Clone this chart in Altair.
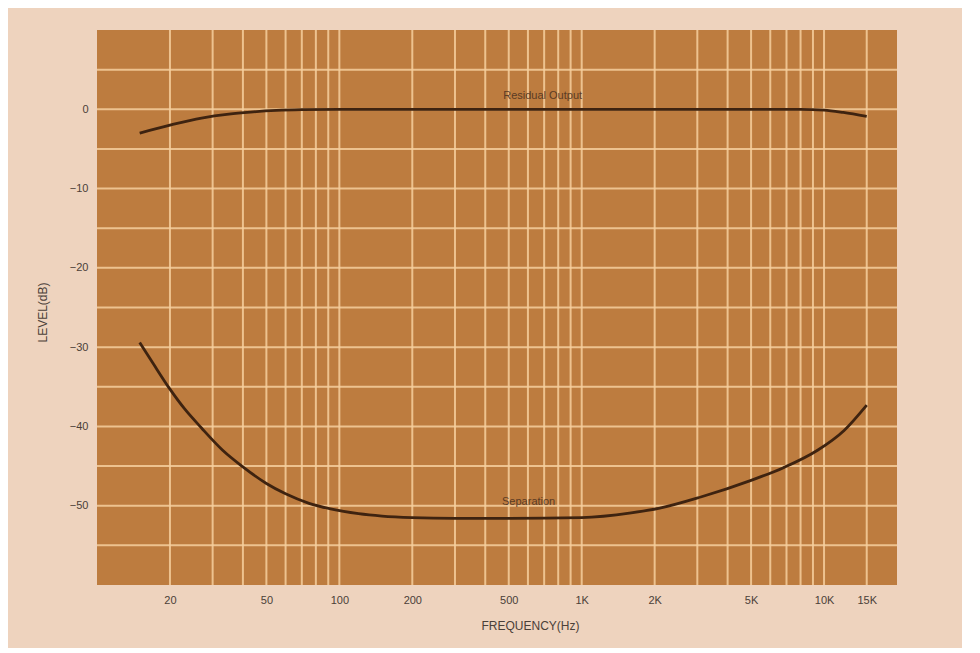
import altair as alt
import pandas as pd

# ---- data ----
res_freq = [15, 20, 27, 35, 43, 55, 70, 100, 200, 500, 1000, 2000, 5000, 8000, 10000, 12000, 15000]
res_db = [-3.0, -2.0, -1.1, -0.6, -0.35, -0.15, -0.05, 0, 0, 0, 0, 0, 0, 0, -0.1, -0.4, -0.9]

sep_freq = [15, 17, 20, 23, 27, 33, 40, 50, 60, 75, 92, 120, 150, 200, 300, 500, 1000, 1600, 2100,
            3100, 5000, 6800, 9400, 12100, 15000]
sep_db = [-29.4, -32.0, -35.3, -37.8, -40.2, -43.0, -45.1, -47.2, -48.5, -49.7, -50.4, -51.0, -51.3,
          -51.5, -51.6, -51.6, -51.5, -50.9, -50.3, -48.9, -46.8, -45.2, -43.0, -40.5, -37.3]

x_grid = [20, 30, 40, 50, 60, 70, 80, 90, 100, 200, 300, 400, 500, 600, 700, 800, 900,
          1000, 2000, 3000, 4000, 5000, 6000, 7000, 8000, 9000, 10000, 15000]
y_grid = [5, 0, -5, -10, -15, -20, -25, -30, -35, -40, -45, -50, -55]

x_tick_values = [20, 50, 100, 200, 500, 1000, 2000, 5000, 10000, 15000]
x_tick_labels = ["20", "50", "100", "200", "500", "1K", "2K", "5K", "10K", "15K"]
y_tick_values = [0, -10, -20, -30, -40, -50]

curve_labels = ["Residual Output", "Separation"]
label_freq = [690, 604]
label_db = [1.7, -49.5]

# ---- styling ----
PLOT_FILL = "#bd7c3f"
PAGE_BG = "#eed3be"
GRID = "#f6cf9e"
CURVE = "#3e2310"
TEXT = "#4b4038"

curves = pd.concat([
    pd.DataFrame({"f": res_freq, "db": res_db, "s": "Residual Output"}),
    pd.DataFrame({"f": sep_freq, "db": sep_db, "s": "Separation"}),
])
xg = pd.DataFrame({"f": x_grid})
yg = pd.DataFrame({"db": y_grid})
lab = pd.DataFrame({"t": curve_labels, "f": label_freq, "db": label_db})

xscale = alt.Scale(type="log", domain=[10, 20000], nice=False)
yscale = alt.Scale(domain=[-60, 10], nice=False, zero=False)

label_expr = ""
for v, t in zip(x_tick_values, x_tick_labels):
    label_expr += f"datum.value == {v} ? '{t}' : "
label_expr += "''"

x_axis = alt.Axis(values=x_tick_values, labelExpr=label_expr, grid=False, ticks=False, domain=False,
                  labelFont="Liberation Sans", labelFontSize=11, labelColor=TEXT, labelPadding=9,
                  title="FREQUENCY(Hz)", titleFont="Liberation Sans", titleFontSize=12,
                  titleFontWeight="normal", titleColor=TEXT, titleX=433, titleY=40,
                  titleAlign="center", titleBaseline="middle")
y_axis = alt.Axis(values=y_tick_values, grid=False, ticks=False, domain=False,
                  labelFont="Liberation Sans", labelFontSize=11, labelColor=TEXT, labelPadding=9,
                  title="LEVEL(dB)", titleFont="Liberation Sans", titleFontSize=12,
                  titleFontWeight="normal", titleColor=TEXT, titleX=-55, titleY=282,
                  titleAlign="center", titleBaseline="middle")

X = alt.X("f:Q", scale=xscale, axis=x_axis)
Y = alt.Y("db:Q", scale=yscale, axis=y_axis)

vgrid = alt.Chart(xg).mark_rule(color=GRID, strokeWidth=2, opacity=0.85).encode(x=X)
hgrid = alt.Chart(yg).mark_rule(color=GRID, strokeWidth=2, opacity=0.85).encode(y=Y)

lines = alt.Chart(curves).mark_line(color=CURVE, strokeWidth=2.8, interpolate="monotone").encode(
    x=X, y=Y, detail="s:N",
)

texts = alt.Chart(lab).mark_text(color="#4a3020", fontSize=11, font="Liberation Sans", opacity=0.85).encode(
    x=X, y=Y, text="t:N",
)

chart = alt.layer(vgrid, hgrid, lines, texts).properties(
    width=800, height=555,
    autosize=alt.AutoSizeParams(type="none"),
    padding={"left": 89, "top": 22, "right": 65, "bottom": 63},
    background=PAGE_BG,
).configure_view(fill=PLOT_FILL, stroke=None)

chart.save("out.html", embed_options={"renderer": "svg", "actions": False})
